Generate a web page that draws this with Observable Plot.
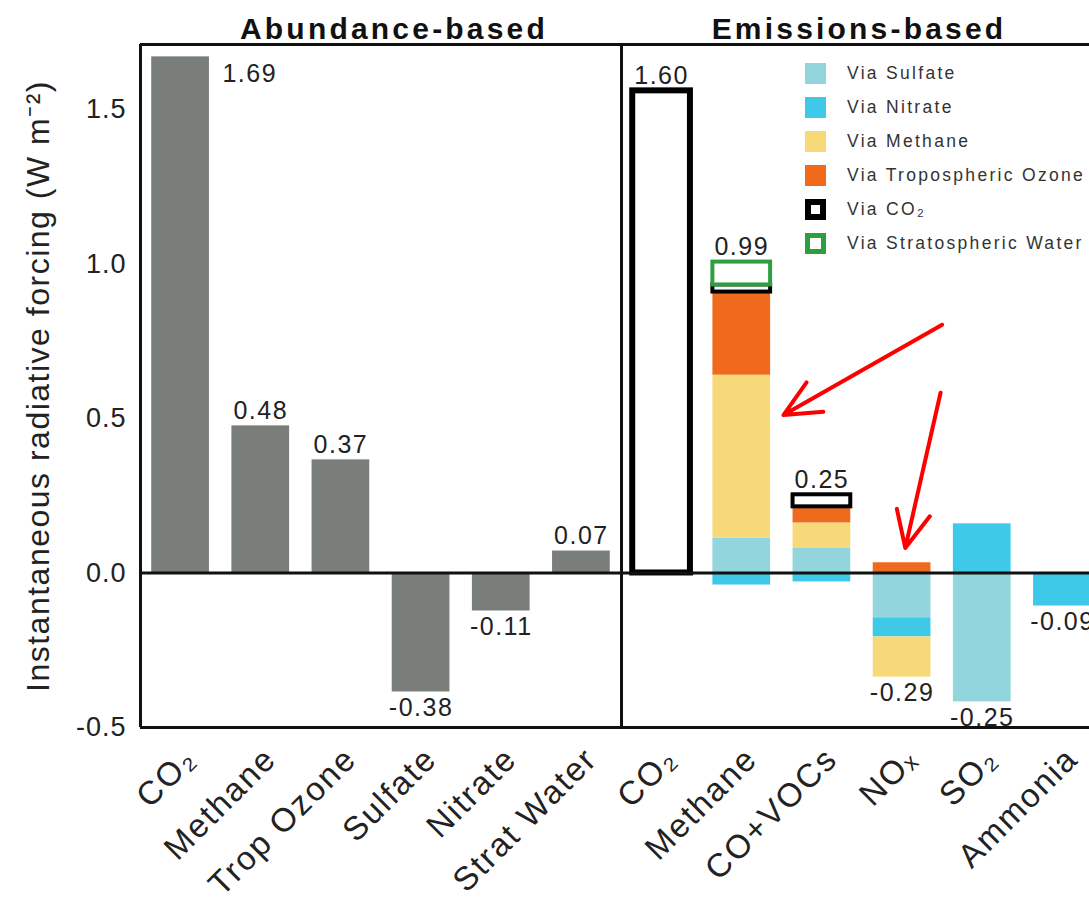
<!DOCTYPE html>
<html>
<head>
<meta charset="utf-8">
<script src="https://cdn.jsdelivr.net/npm/d3@7"></script>
<script src="https://cdn.jsdelivr.net/npm/@observablehq/plot@0.6"></script>
<style>
  body { margin: 0; background: #fff; }
  #wrap { position: relative; width: 1089px; height: 898px; overflow: hidden;
          font-family: "Liberation Sans", Arial, Helvetica, sans-serif; }
  #legend { position: absolute; left: 805px; top: 56px; }
  .row { display: flex; align-items: center; height: 34px; font-size: 17.5px;
         letter-spacing: 2.3px; color: #333; white-space: nowrap; }
  .sw { width: 21px; height: 21px; margin-right: 21px; box-sizing: border-box; }
</style>
</head>
<body>
<div id="wrap"></div>
<script>
// ---------------- data ----------------
const panelTitles = ["Abundance-based", "Emissions-based"];

const abundanceCats   = ["CO₂", "Methane", "Trop Ozone", "Sulfate", "Nitrate", "Strat Water"];
const abundanceValues = [1.67, 0.476, 0.366, -0.385, -0.123, 0.071];
const abundanceLabels = ["1.69", "0.48", "0.37", "-0.38", "-0.11", "0.07"];

const emissionCats = ["CO₂", "Methane", "CO+VOCs", "NOₓ", "SO₂", "Ammonia"];
const viaNames = ["Via Sulfate", "Via Nitrate", "Via Methane", "Via Tropospheric Ozone", "Via CO₂", "Via Stratospheric Water"];
const viaSulfate      = [0,     0.113,  0.081, -0.145, -0.417,  0];
const viaNitrate      = [0,    -0.039, -0.029, -0.062,  0.159, -0.107];
const viaMethane      = [0,     0.527,  0.081, -0.130,  0,      0];
const viaTropOzone    = [0,     0.269,  0.052,  0.033,  0,      0];
const viaCO2          = [1.56,  0.023,  0.039,  0,      0,      0];
const viaStratWater   = [0,     0.074,  0,      0,      0,      0];
const emissionLabels  = ["1.60", "0.99", "0.25", "-0.29", "-0.25", "-0.09"];

const yTicks = [-0.5, 0, 0.5, 1.0, 1.5];
const yDomain = [-0.5, 1.71];
const yLabel = "Instantaneous radiative forcing (W m⁻²)";

// red annotation arrows (data coordinates: category position, forcing)
const arrowStartX = [9.50, 9.48];
const arrowStartY = [0.803, 0.583];
const arrowEndX   = [7.52, 9.04];
const arrowEndY   = [0.511, 0.081];

// ---------------- styles ----------------
const grayBar = "#7a7e7a";
const viaColors = ["#92d5dc", "#3fc9e9", "#f7d97a", "#ef6a1d", "#000000", "#2f9e41"];
const outlineVia = new Set([4, 5]);
const BAR_HALF = 0.36;

// ---------------- build tables ----------------
const viaSeries = [viaSulfate, viaNitrate, viaMethane, viaTropOzone, viaCO2, viaStratWater];
const allCats = [...abundanceCats, ...emissionCats];
const solidRows = [], outlineRows = [], labelAbove = [], labelBelow = [], labelRight = [];

abundanceValues.forEach((v, i) => {
  solidRows.push({x: i, y1: 0, y2: v, color: grayBar});
  const lab = {x: i, y: v, text: abundanceLabels[i]};
  if (i === 0) labelRight.push(lab);          // tall CO2 bar: label beside it
  else if (v >= 0) labelAbove.push(lab); else labelBelow.push(lab);
});

emissionCats.forEach((c, j) => {
  let pos = 0, neg = 0;
  viaSeries.forEach((s, k) => {
    const v = s[j];
    if (!v) return;
    let y1, y2;
    if (v > 0) { y1 = pos; y2 = pos + v; pos = y2; } else { y1 = neg; y2 = neg + v; neg = y2; }
    const row = {x: 6 + j, y1, y2, color: viaColors[k], via: viaNames[k]};
    (outlineVia.has(k) ? outlineRows : solidRows).push(row);
  });
  const txt = emissionLabels[j];
  if (!txt.startsWith("-")) labelAbove.push({x: 6 + j, y: pos, text: txt});
  else labelBelow.push({x: 6 + j, y: neg, text: txt});
});

const arrows = arrowStartX.map((d, i) => ({x1: d, y1: arrowStartY[i], x2: arrowEndX[i], y2: arrowEndY[i]}));

// ---------------- plot ----------------
const font = "Liberation Sans, Arial, Helvetica, sans-serif";
const titleStyle = {frameAnchor: "top", text: d => d, lineAnchor: "bottom", dy: -6, fontSize: 30, fontWeight: "bold", fill: "#111"};
const plot = Plot.plot({
  width: 1089,
  height: 898,
  marginLeft: 140,
  marginRight: 0,
  marginTop: 44,
  marginBottom: 171,
  style: {fontFamily: font, background: "#fff", color: "#222", overflow: "hidden"},
  x: {domain: [-0.5, 11.5], range: [140, 1102]},
  y: {domain: yDomain, range: [727, 44]},
  marks: [
    Plot.rectY(solidRows, {x1: d => d.x - BAR_HALF, x2: d => d.x + BAR_HALF, y1: "y1", y2: "y2", fill: "color"}),
    Plot.rectY(outlineRows, {x1: d => d.x - BAR_HALF, x2: d => d.x + BAR_HALF, y1: "y1", y2: "y2",
      fill: "white", stroke: "color", strokeWidth: d => (d.x === 6 ? 6 : 4)}),
    Plot.ruleY([0], {stroke: "#111", strokeWidth: 3}),
    Plot.ruleY([yDomain[0], yDomain[1]], {stroke: "#111", strokeWidth: 3}),
    Plot.ruleX([-0.5, 5.5], {stroke: "#111", strokeWidth: 3}),
    Plot.axisY(yTicks, {tickSize: 0, tickPadding: 14, tickFormat: d => d.toFixed(1), fontSize: 27, label: null}),
    Plot.axisX(d3.range(allCats.length), {tickFormat: i => allCats[i], tickRotate: -45, tickSize: 0,
      tickPadding: 26, fontSize: 33, label: null, dx: 10}),
    Plot.text(labelAbove, {x: "x", y: "y", text: "text", lineAnchor: "bottom", dy: -7, fontSize: 25, fill: "#222"}),
    Plot.text(labelBelow, {x: "x", y: "y", text: "text", lineAnchor: "top", dy: 6, fontSize: 25, fill: "#222"}),
    Plot.text(labelRight, {x: d => d.x + BAR_HALF, y: "y", text: "text", textAnchor: "start", lineAnchor: "middle",
      dx: 13, dy: 17, fontSize: 25, fill: "#222"}),
    Plot.text([panelTitles[0]], {x: () => 2.5, dx: 13, ...titleStyle}),
    Plot.text([panelTitles[1]], {x: () => 8.5, dx: -3, ...titleStyle}),
    Plot.text([yLabel], {frameAnchor: "left", text: d => d, rotate: -90, textAnchor: "middle", lineAnchor: "middle",
      dx: -102, fontSize: 32, fill: "#222"}),
    Plot.arrow(arrows, {x1: "x1", y1: "y1", x2: "x2", y2: "y2", stroke: "#ff0000", strokeWidth: 4, headLength: 15, headAngle: 50})
  ]
});

// letter spacing to match the reference's loosely tracked type
const valueTexts = new Set([...abundanceLabels, ...emissionLabels]);
const catTexts = new Set(allCats);
d3.select(plot).selectAll("text").each(function () {
  const t = this.textContent;
  let ls = null;
  if (panelTitles.includes(t)) ls = "3.2px";
  else if (valueTexts.has(t)) ls = "1.5px";
  else if (catTexts.has(t)) ls = "2px";
  else if (t === yLabel) ls = "1.5px";
  else ls = "1px";
  this.style.letterSpacing = ls;
});

const wrap = document.getElementById("wrap");
wrap.appendChild(plot);

// legend (overlaid at top right of the emissions panel)
const legend = document.createElement("div");
legend.id = "legend";
viaNames.forEach((name, k) => {
  const row = document.createElement("div");
  row.className = "row";
  const sw = document.createElement("div");
  sw.className = "sw";
  if (outlineVia.has(k)) {
    sw.style.background = "#fff";
    sw.style.border = `${k === 4 ? 6 : 5}px solid ${viaColors[k]}`;
  } else {
    sw.style.background = viaColors[k];
  }
  const label = document.createElement("span");
  label.textContent = name;
  row.appendChild(sw);
  row.appendChild(label);
  legend.appendChild(row);
});
wrap.appendChild(legend);
</script>
</body>
</html>
